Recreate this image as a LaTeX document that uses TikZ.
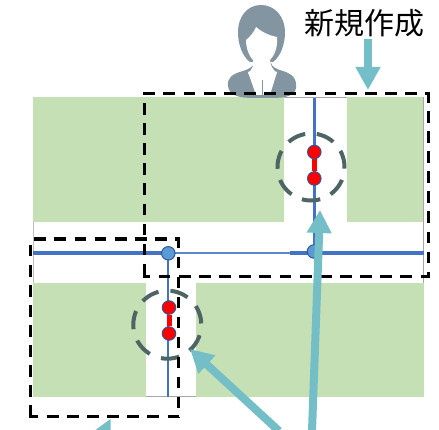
\documentclass[tikz,border=0pt]{standalone}
\usepackage{fontspec}
\newfontfamily\cjk{Noto Sans CJK JP}
\usetikzlibrary{arrows.meta}
\definecolor{grn}{HTML}{C5E0B4}
\definecolor{teal1}{HTML}{74BFC7}
\definecolor{blu}{HTML}{4472C4}
\definecolor{nodeblu}{HTML}{5B9BD5}
\definecolor{ringc}{HTML}{4F6464}
\definecolor{person}{HTML}{8295A1}
\tikzset{
  plot/.style={fill=grn,draw=none},
  road/.style={draw=blu,line width=3.3pt},
  sideroad/.style={draw=blu,line width=2.4pt},
  thinroad/.style={draw=blu!85,line width=2.2pt},
  edgeline/.style={draw=gray!70,line width=1pt},
  ring/.style={circle,draw=ringc,line width=4pt,inner sep=0pt,outer sep=0pt,minimum size=#1},
  redline/.style={draw=red,line width=5pt},
  jnode/.style={circle,draw=blu!75!black,line width=1pt,inner sep=0pt,minimum size=13.5pt},
  scopeh/.style={draw=black,line width=3.3pt,dash pattern=on 11.8pt off 8.35pt,dash phase=#1},
  scopev/.style={draw=black,line width=3.3pt,dash pattern=on 11.5pt off 8.55pt,dash phase=#1},
  tealarrow/.style={draw=teal1,line width=8pt,-{Triangle[width=23.5pt,length=23pt]}},
  tealfill/.style={draw=none,fill=teal1},
}
\begin{document}
\begin{tikzpicture}[x=1pt,y=-1pt]
\useasboundingbox (0,0) rectangle (439,430);
% plots
\fill[plot] (33,97) rectangle (284,222);
\fill[plot] (347,97) rectangle (424,222);
\fill[plot] (33,283) rectangle (146,397);
\fill[plot] (196,283) rectangle (424,397);
\draw[edgeline,gray!50] (33.5,222) -- (33.5,283);
\draw[edgeline] (423.7,97) -- (423.7,283);
\draw[edgeline] (146,396.7) -- (196,396.7);
\draw[edgeline,line width=.7pt] (284,97.3) -- (347,97.3);
% person
\fill[person] (254,98) .. controls (240,98) and (229,96) .. (228,86)
  .. controls (227,78) and (232,74) .. (243,71)
  .. controls (249,69) and (253,67) .. (254,63)
  -- (271,63) .. controls (272,67) and (276,69) .. (283,71)
  .. controls (292,74) and (297,78) .. (296,88)
  .. controls (295,96) and (285,98) .. (272,98) -- cycle;
\fill[person] (261,5) .. controls (247,5) and (238,17) .. (238,32)
  .. controls (238,44) and (242,56) .. (250,62)
  -- (273,62) .. controls (281,56) and (285,44) .. (285,32)
  .. controls (285,17) and (275,5) .. (261,5) -- cycle;
\fill[white] (256,27) .. controls (263,33) and (271,36) .. (277,37)
  .. controls (278,48) and (274,56) .. (270,60)
  .. controls (270,66) and (274,71) .. (277,73)
  -- (262,92) -- (248,73)
  .. controls (252,70) and (254,66) .. (253,60)
  .. controls (249,56) and (246,48) .. (246,40)
  .. controls (250,37) and (254,32) .. (256,27) -- cycle;
\fill[white] (248,72) -- (255,70) -- (262,80) -- (262,95) -- (256,95) -- cycle;
\fill[white] (277,72) -- (269,70) -- (262,80) -- (262,95) -- (270,95) -- cycle;
\draw[person,line width=.6pt] (262,80) -- (262,95);
% roads
\draw[road] (33,253) -- (168,253);
\draw[thinroad] (168,252.7) -- (290,252.7);
\draw[road] (290,253) -- (424,253);
\draw[sideroad] (314.3,98) -- (314.3,252);
\draw[sideroad] (168,253) -- (168,397);
% rings
\node[ring=67pt,dash pattern=on 18.5pt off 11.57pt,dash phase=1.7pt] (ringa) at (311,167) {};
\node[ring=68pt,dash pattern=on 18.5pt off 12.02pt,dash phase=29.3pt] (ringb) at (167.3,324.7) {};
% junctions
\node[jnode,fill=nodeblu] (ja) at (168.3,253.3) {};
\node[jnode,fill=nodeblu] (jb) at (314,251.5) {};
\node[jnode,fill=red] (ra) at (314.3,152) {};
\node[jnode,fill=red] (rb) at (314.3,178.5) {};
\node[jnode,fill=red] (rc) at (169,307.5) {};
\node[jnode,fill=red] (rd) at (169,333.5) {};
\draw[redline] (ra) -- (rb);
\draw[redline] (rc) -- (rd);
% dashed boxes
\draw[scopeh=0pt] (143.3,93.5) -- (429.9,93.5);
\draw[scopev=1.8pt] (428.3,93) -- (428.3,278);
\draw[scopeh=4.7pt] (143.2,276.5) -- (429.9,276.5);
\draw[scopev=8.75pt] (144.7,92) -- (144.7,278);
\draw[scopeh=14.93pt] (29,239) -- (180,239);
\draw[scopev=1pt] (178.5,237.5) -- (178.5,418);
\draw[scopeh=1.93pt] (28.5,416.7) -- (180,416.7);
\draw[scopev=12.55pt] (30.2,237.5) -- (30.2,418.2);
% arrows
\coordinate (a1s) at (368,39);
\coordinate (a1e) at (368,90);
\coordinate (a2s) at (312,431);
\coordinate (a2e) at (320,210);
\coordinate (a3s) at (279,431);
\coordinate (a3e) at (190,349);
\draw[tealarrow] (a1s) -- (a1e);
\draw[tealarrow] (a2s) -- (a2e);
\draw[tealarrow] (a3s) -- (a3e);
\fill[tealfill] (110.5,419) -- (95.5,430) -- (110.5,430) -- cycle;
% label
\node[inner sep=0pt,anchor=center,font=\cjk\fontsize{30}{30}\selectfont] (lbl) at (364.5,23) {新規作成};
\end{tikzpicture}
\end{document}
